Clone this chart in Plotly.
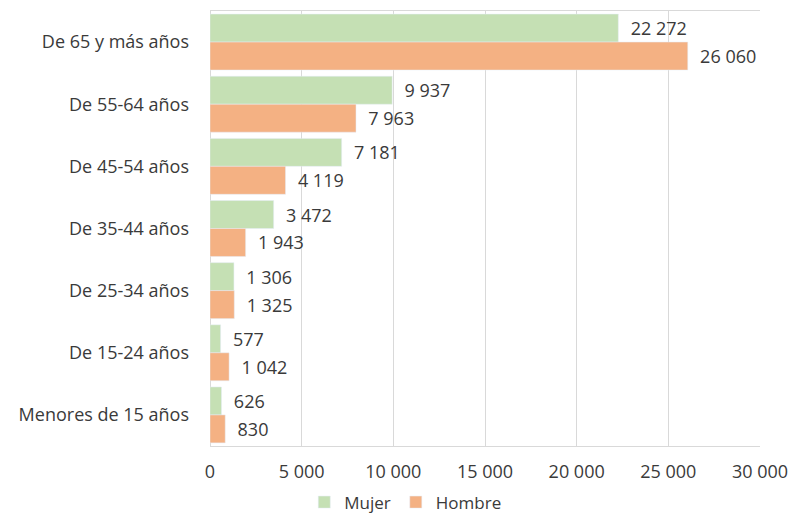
import plotly.graph_objects as go

categories = ["De 65 y más años", "De 55-64 años", "De 45-54 años", "De 35-44 años",
              "De 25-34 años", "De 15-24 años", "Menores de 15 años"]
mujer = [22272, 9937, 7181, 3472, 1306, 577, 626]
hombre = [26060, 7963, 4119, 1943, 1325, 1042, 830]
tick_vals = [0, 5000, 10000, 15000, 20000, 25000, 30000]

font_family = "'Open Sans', Lato, sans-serif"
text_color = "#3a3a3a"
fsize = 18

fig = go.Figure()
fig.add_trace(go.Bar(
    y=categories, x=mujer, orientation="h", name="Mujer",
    marker=dict(color="#c5e0b4"),
    texttemplate="\u00a0\u00a0%{x:,d}", textposition="outside",
    textfont=dict(size=fsize, color=text_color, family=font_family),
    cliponaxis=False,
))
fig.add_trace(go.Bar(
    y=categories, x=hombre, orientation="h", name="Hombre",
    marker=dict(color="#f4b183"),
    texttemplate="\u00a0\u00a0%{x:,d}", textposition="outside",
    textfont=dict(size=fsize, color=text_color, family=font_family),
    cliponaxis=False,
))

fig.update_layout(
    width=793, height=514,
    margin=dict(l=210, r=33, t=11, b=68, autoexpand=False),
    paper_bgcolor="white", plot_bgcolor="white",
    barmode="group", bargap=0.1, bargroupgap=0.0,
    separators=". ",
    font=dict(family=font_family, size=fsize, color=text_color),
    showlegend=True,
    legend=dict(orientation="h", x=0.355, xanchor="center", y=-0.13, yanchor="middle",
                font=dict(size=fsize - 1, color=text_color), itemwidth=30,
                traceorder="normal"),
)
fig.update_xaxes(
    range=[0, 30000], tickvals=tick_vals, tickformat=",d",
    showgrid=True, gridcolor="#d9d9d9", gridwidth=1,
    zeroline=True, zerolinecolor="#d9d9d9", zerolinewidth=1,
    showline=True, linecolor="#d9d9d9", linewidth=1, mirror=True,
    ticks="", ticklabelstandoff=9,
    tickfont=dict(size=fsize, color=text_color),
)
fig.update_yaxes(
    autorange="reversed", showgrid=False, zeroline=False, showline=False,
    ticks="", ticklabelstandoff=20,
    tickfont=dict(size=fsize, color=text_color),
)

fig.write_html("out.html")
